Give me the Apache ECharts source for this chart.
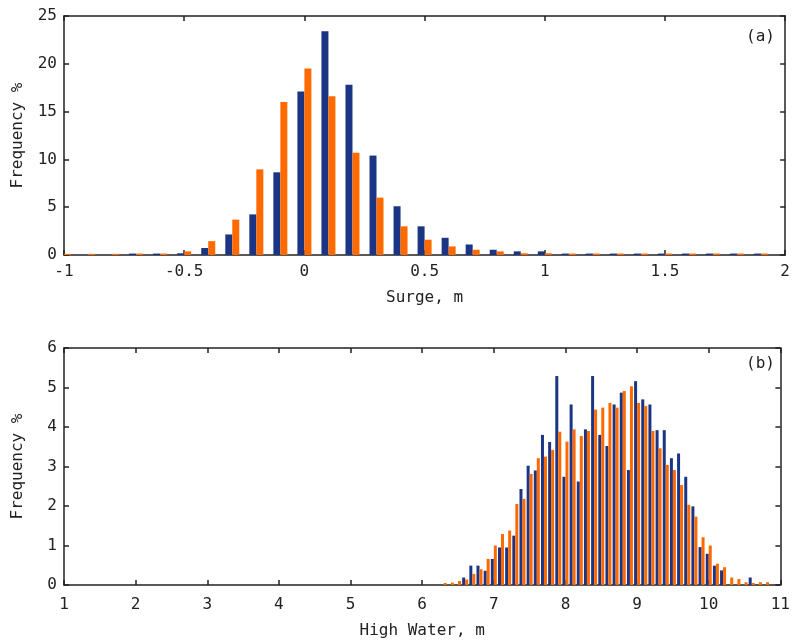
<!DOCTYPE html>
<html><head><meta charset="utf-8">
<script src="https://cdn.jsdelivr.net/npm/echarts@6/dist/echarts.min.js"></script>
<style>html,body{margin:0;padding:0;background:#fff}#c{width:793px;height:640px}</style>
</head><body><div id="c"></div>
<script>
// Panel (a): surge
const surgeBins = [-1.0,-0.9,-0.8,-0.7,-0.6,-0.5,-0.4,-0.3,-0.2,-0.1,0.0,0.1,0.2,0.3,0.4,0.5,0.6,0.7,0.8,0.9,1.0,1.1,1.2,1.3,1.4,1.5,1.6,1.7,1.8,1.9];
const surgeBlue = [0,0,0,0.15,0.15,0.18,0.73,2.15,4.25,8.65,17.1,23.4,17.8,10.4,5.1,3.0,1.8,1.1,0.55,0.38,0.38,0.15,0.15,0.15,0.15,0.15,0.15,0.15,0.15,0.15];
const surgeOrange = [0.12,0.12,0.12,0.15,0.15,0.38,1.45,3.7,8.96,16.0,19.5,16.6,10.7,6.0,3.0,1.6,0.9,0.55,0.38,0.18,0.18,0.15,0.15,0.15,0.15,0.15,0.15,0.15,0.15,0.15];
const surgeXTicks = [-1, 2, 0.5];
const surgeYTicks = [0, 25, 5];

// Panel (b): high water
const hwBins = [6.3,6.4,6.5,6.6,6.7,6.8,6.9,7.0,7.1,7.2,7.3,7.4,7.5,7.6,7.7,7.8,7.9,8.0,8.1,8.2,8.3,8.4,8.5,8.6,8.7,8.8,8.9,9.0,9.1,9.2,9.3,9.4,9.5,9.6,9.7,9.8,9.9,10.0,10.1,10.2,10.3,10.4,10.5,10.6,10.7,10.8];
const hwBlue = [0,0,0,0.19,0.49,0.49,0.36,0.66,0.95,0.95,1.25,2.43,3.02,2.90,3.80,3.62,5.29,2.74,4.57,2.62,3.94,5.29,3.80,3.52,4.57,4.87,2.91,5.16,4.70,4.57,3.92,3.92,3.21,3.33,2.74,1.99,0.96,0.79,0.49,0.37,0,0,0,0.19,0,0];
const hwOrange = [0.05,0.06,0.1,0.14,0.28,0.40,0.66,1.0,1.29,1.38,2.05,2.18,2.81,3.21,3.25,3.42,3.88,3.63,3.94,3.77,3.90,4.44,4.49,4.61,4.49,4.91,5.03,4.61,4.53,3.90,3.46,3.04,2.91,2.53,2.03,1.73,1.21,1.0,0.54,0.45,0.19,0.15,0.07,0.05,0.07,0.07];
const hwXTicks = [1, 11, 1];
const hwYTicks = [0, 6, 1];

const BLUE = '#1b3584', ORANGE = '#ff6a00', INK = '#222';
const FONT = 'DejaVu Sans Mono';
const FS = 16;
const pairs = (xs, ys) => xs.map((x, i) => [x, ys[i]]);

function xAx(grid, t, pos, name, labelMargin, nameGap) {
  return {
    type: 'value', gridIndex: grid, position: pos, min: t[0], max: t[1], interval: t[2],
    name: name || '', nameLocation: 'middle', nameGap: nameGap || 30,
    nameTextStyle: {fontFamily: FONT, fontSize: FS, color: INK},
    axisLine: {show: true, onZero: false, lineStyle: {color: INK, width: 1.5}},
    axisTick: {show: true, inside: true, length: 5, lineStyle: {color: INK, width: 1.5}},
    axisLabel: {show: pos === 'bottom', fontFamily: FONT, fontSize: FS, color: INK, margin: labelMargin || 6},
    splitLine: {show: false}
  };
}
function yAx(grid, t, pos, name) {
  return {
    type: 'value', gridIndex: grid, position: pos, min: t[0], max: t[1], interval: t[2],
    name: name || '', nameLocation: 'middle', nameGap: 38,
    nameTextStyle: {fontFamily: FONT, fontSize: FS, color: INK},
    axisLine: {show: true, onZero: false, lineStyle: {color: INK, width: 1.5}},
    axisTick: {show: true, inside: true, length: 5, lineStyle: {color: INK, width: 1.5}},
    axisLabel: {show: pos === 'left', fontFamily: FONT, fontSize: FS, color: INK, margin: 7},
    splitLine: {show: false}
  };
}
function bar(name, data, color, xi, yi, w) {
  return {
    type: 'bar', name, data, xAxisIndex: xi, yAxisIndex: yi, barWidth: w, barGap: '0%',
    clip: true, itemStyle: {color}, emphasis: {disabled: true}, animation: false
  };
}

const chart = echarts.init(document.getElementById('c'), null, {renderer: 'canvas'});
chart.setOption({
  animation: false,
  backgroundColor: '#fff',
  grid: [
    {left: 64, right: 7, top: 16, height: 239},
    {left: 64, right: 7, top: 348, height: 237}
  ],
  xAxis: [
    xAx(0, surgeXTicks, 'bottom', 'Surge, m', 9, 35),
    xAx(0, surgeXTicks, 'top'),
    xAx(1, hwXTicks, 'bottom', 'High Water, m', 12, 38),
    xAx(1, hwXTicks, 'top')
  ],
  yAxis: [
    yAx(0, surgeYTicks, 'left', 'Frequency %'),
    yAx(0, surgeYTicks, 'right'),
    yAx(1, hwYTicks, 'left', 'Frequency %'),
    yAx(1, hwYTicks, 'right')
  ],
  series: [
    bar('a1', pairs(surgeBins, surgeBlue), BLUE, 0, 0, 7),
    bar('a2', pairs(surgeBins, surgeOrange), ORANGE, 0, 0, 7),
    bar('b1', pairs(hwBins, hwBlue), BLUE, 2, 2, 3),
    bar('b2', pairs(hwBins, hwOrange), ORANGE, 2, 2, 3)
  ],
  graphic: [
    {type: 'text', left: 746, top: 29, style: {text: '(a)', font: '16px "DejaVu Sans Mono"', fill: INK}},
    {type: 'text', left: 746, top: 356, style: {text: '(b)', font: '16px "DejaVu Sans Mono"', fill: INK}}
  ]
});
</script></body></html>
